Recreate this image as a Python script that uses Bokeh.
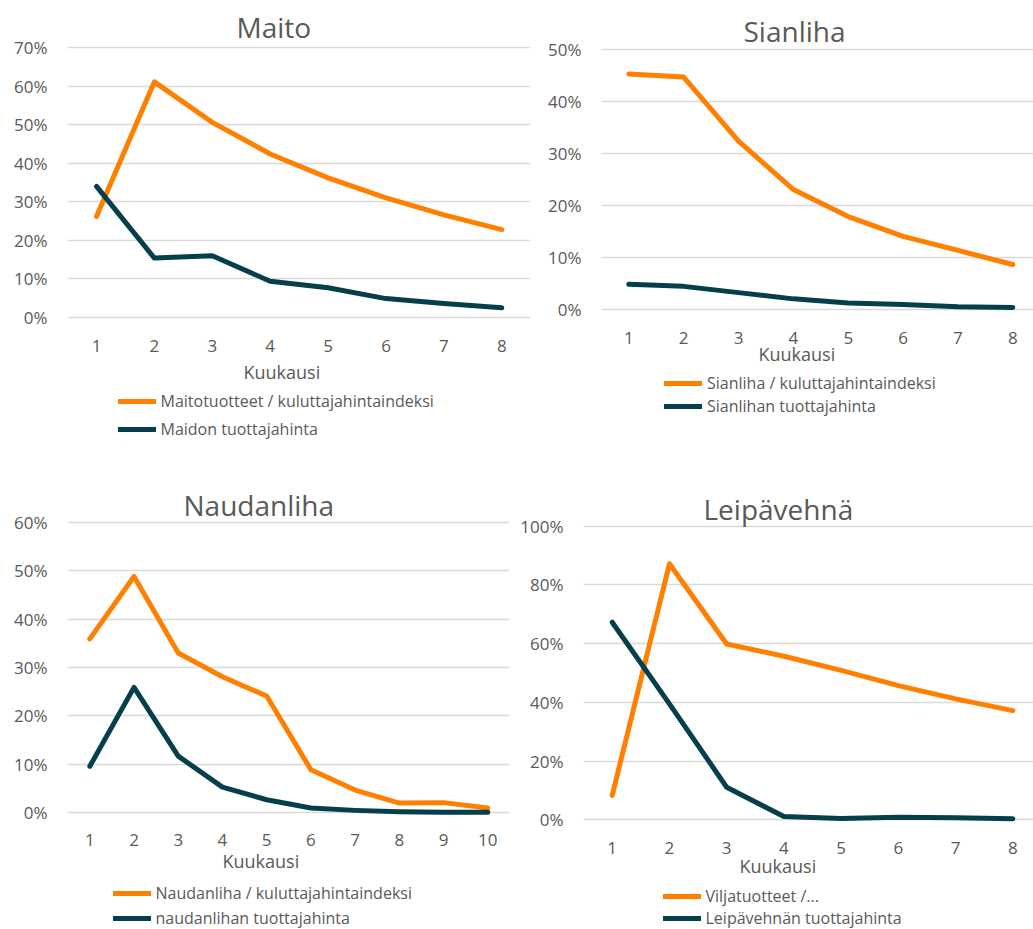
from bokeh.plotting import figure
from bokeh.layouts import column, row
from bokeh.models import Range1d, FixedTicker, NumeralTickFormatter, Title, Legend, LegendItem
from bokeh.embed import file_html
from bokeh.resources import INLINE

# ---------------- data ----------------
months8 = [1, 2, 3, 4, 5, 6, 7, 8]
months10 = [1, 2, 3, 4, 5, 6, 7, 8, 9, 10]

maito_kuluttaja = [0.262, 0.611, 0.506, 0.424, 0.362, 0.310, 0.266, 0.228]
maito_tuottaja = [0.340, 0.154, 0.160, 0.094, 0.077, 0.049, 0.036, 0.025]

sianliha_kuluttaja = [0.453, 0.447, 0.324, 0.231, 0.179, 0.141, 0.114, 0.087]
sianliha_tuottaja = [0.049, 0.045, 0.033, 0.021, 0.013, 0.010, 0.006, 0.0045]

naudanliha_kuluttaja = [0.359, 0.488, 0.330, 0.281, 0.241, 0.089, 0.047, 0.020, 0.021, 0.010]
naudanliha_tuottaja = [0.096, 0.259, 0.117, 0.053, 0.027, 0.010, 0.005, 0.002, 0.001, 0.001]

leipa_kuluttaja = [0.083, 0.872, 0.599, 0.557, 0.509, 0.457, 0.412, 0.372]
leipa_tuottaja = [0.673, 0.395, 0.111, 0.011, 0.0045, 0.009, 0.007, 0.0035]

titles = ["Maito", "Sianliha", "Naudanliha", "Leipävehnä"]
labels_kuluttaja = ["Maitotuotteet / kuluttajahintaindeksi", "Sianliha / kuluttajahintaindeksi",
                    "Naudanliha / kuluttajahintaindeksi", "Viljatuotteet /..."]
labels_tuottaja = ["Maidon tuottajahinta", "Sianlihan tuottajahinta",
                   "naudanlihan tuottajahinta", "Leipävehnän tuottajahinta"]
x_title = "Kuukausi"

# ---------------- style ----------------
ORANGE = "#FF8000"
DARK = "#063F4C"
TEXT = "#595959"
GRID = "#D9D9D9"
FONT = "Open Sans"


def panel(title, months, s_kul, s_tuo, lab_kul, lab_tuo, ymax, ystep, L):
    fig_w = L["fig_right"] - L["fig_left"]
    fig_h = L["fig_bottom"] - L["fig_top"]
    b_left = L["frame_left"] - L["fig_left"]
    b_right = L["fig_right"] - L["frame_right"]
    b_top = L["frame_top"] - L["fig_top"]
    b_bottom = L["fig_bottom"] - L["frame_bottom"]
    frame_w = L["frame_right"] - L["frame_left"]
    sp = L["spacing"]
    x0 = 1 - (L["tick1"] - L["frame_left"]) / sp
    x1 = x0 + frame_w / sp
    ppu = (L["zero_y"] - L["max_y"]) / ymax
    y1 = ymax + (L["max_y"] - L["frame_top"]) / ppu
    y0 = -(L["frame_bottom"] - L["zero_y"]) / ppu

    p = figure(width=fig_w, height=fig_h, x_range=Range1d(x0, x1), y_range=Range1d(y0, y1),
               min_border_left=b_left, min_border_right=b_right,
               min_border_top=b_top, min_border_bottom=b_bottom,
               output_backend="svg", toolbar_location=None)
    p.outline_line_color = None
    p.background_fill_color = "white"
    p.border_fill_color = "white"

    nt = int(round(ymax / ystep))
    p.yaxis.ticker = FixedTicker(ticks=[round(i * ystep, 6) for i in range(nt + 1)])
    p.yaxis.formatter = NumeralTickFormatter(format="0%")
    p.xaxis.ticker = FixedTicker(ticks=list(months))
    for ax in (p.xaxis[0], p.yaxis[0]):
        ax.axis_line_color = None
        ax.major_tick_line_color = None
        ax.minor_tick_line_color = None
        ax.major_tick_out = 0
        ax.major_tick_in = 0
        ax.major_label_text_font = FONT
        ax.major_label_text_font_size = "17px"
        ax.major_label_text_color = TEXT
    p.yaxis.major_label_standoff = 20
    p.xaxis.major_label_standoff = L["xlab_standoff"]

    p.xgrid.grid_line_color = None
    p.ygrid.grid_line_color = GRID
    p.ygrid.grid_line_width = 1.3

    line_kw = dict(line_width=5, line_cap="round", line_join="round")
    p.line(months, s_kul, line_color=ORANGE, **line_kw)
    p.line(months, s_tuo, line_color=DARK, **line_kw)

    p.title = Title(text=title, align="left", offset=L["title_offset"], text_font=FONT,
                    text_font_size="28px", text_font_style="normal", text_color=TEXT,
                    standoff=L["title_standoff"])

    xt = Title(text=x_title, align="left", offset=L["xt_offset"], text_font=FONT,
               text_font_size="18px", text_font_style="normal", text_color=TEXT,
               standoff=L["xt_standoff"])
    p.add_layout(xt, "below")

    # legend strip under the chart (its two lines reuse the same data, kept out of view)
    leg_h = L["leg_bottom"] - L["fig_bottom"]
    q = figure(width=fig_w, height=leg_h, x_range=Range1d(-20, -19), y_range=Range1d(0, 1),
               min_border_left=b_left, min_border_right=b_right,
               min_border_top=0, min_border_bottom=0,
               x_axis_location=None, y_axis_location=None,
               output_backend="svg", toolbar_location=None, title=None)
    q.grid.visible = False
    q.outline_line_color = None
    q.background_fill_color = "white"
    q.border_fill_color = "white"
    r1 = q.line(months, s_kul, line_color=ORANGE, **line_kw)
    r2 = q.line(months, s_tuo, line_color=DARK, **line_kw)
    leg = Legend(items=[LegendItem(label=lab_kul, renderers=[r1]),
                        LegendItem(label=lab_tuo, renderers=[r2])],
                 location=(L["leg_dx"], L["leg_vy"]), orientation="vertical",
                 glyph_width=38, glyph_height=16, label_height=16,
                 label_standoff=5, spacing=L["leg_spacing"], padding=0, margin=0,
                 border_line_color=None, background_fill_alpha=0,
                 label_text_font=FONT, label_text_font_size="16px", label_text_color=TEXT)
    q.add_layout(leg)
    return column(p, q)


# row 1 frames: top 44 / bottom 321; row 2 frames: top 520 / bottom 823
L1 = dict(fig_left=0, fig_right=530, fig_top=0, fig_bottom=390, leg_bottom=470,
          frame_left=67, frame_right=530, frame_top=44, frame_bottom=321,
          tick1=96.0, spacing=57.9, max_y=47.0, zero_y=317.0,
          xlab_standoff=18, title_offset=169, title_standoff=-2,
          xt_offset=176, xt_standoff=7, leg_dx=50.5, leg_vy=30, leg_spacing=6)
L2 = dict(fig_left=530, fig_right=1033, fig_top=0, fig_bottom=368, leg_bottom=470,
          frame_left=601, frame_right=1033, frame_top=44, frame_bottom=321,
          tick1=628.3, spacing=54.86, max_y=49.0, zero_y=309.3,
          xlab_standoff=10, title_offset=142, title_standoff=-10,
          xt_offset=157, xt_standoff=-13, leg_dx=63, leg_vy=53, leg_spacing=1)
L3 = dict(fig_left=0, fig_right=509, fig_top=470, fig_bottom=882, leg_bottom=929,
          frame_left=67, frame_right=509, frame_top=520, frame_bottom=823,
          tick1=89.3, spacing=44.22, max_y=521.7, zero_y=812.3,
          xlab_standoff=10, title_offset=116, title_standoff=-6,
          xt_offset=155, xt_standoff=-3, leg_dx=45.5, leg_vy=0, leg_spacing=3)
L4 = dict(fig_left=509, fig_right=1033, fig_top=470, fig_bottom=882, leg_bottom=929,
          frame_left=583, frame_right=1033, frame_top=520, frame_bottom=823,
          tick1=611.7, spacing=57.24, max_y=525.7, zero_y=819.3,
          xlab_standoff=18, title_offset=120, title_standoff=-14,
          xt_offset=156, xt_standoff=-9, leg_dx=79.5, leg_vy=0, leg_spacing=0)

c1 = panel(titles[0], months8, maito_kuluttaja, maito_tuottaja, labels_kuluttaja[0], labels_tuottaja[0], 0.7, 0.1, L1)
c2 = panel(titles[1], months8, sianliha_kuluttaja, sianliha_tuottaja, labels_kuluttaja[1], labels_tuottaja[1], 0.5, 0.1, L2)
c3 = panel(titles[2], months10, naudanliha_kuluttaja, naudanliha_tuottaja, labels_kuluttaja[2], labels_tuottaja[2], 0.6, 0.1, L3)
c4 = panel(titles[3], months8, leipa_kuluttaja, leipa_tuottaja, labels_kuluttaja[3], labels_tuottaja[3], 1.0, 0.2, L4)

layout = column(row(c1, c2), row(c3, c4))
open("out.html", "w").write(file_html(layout, INLINE))
